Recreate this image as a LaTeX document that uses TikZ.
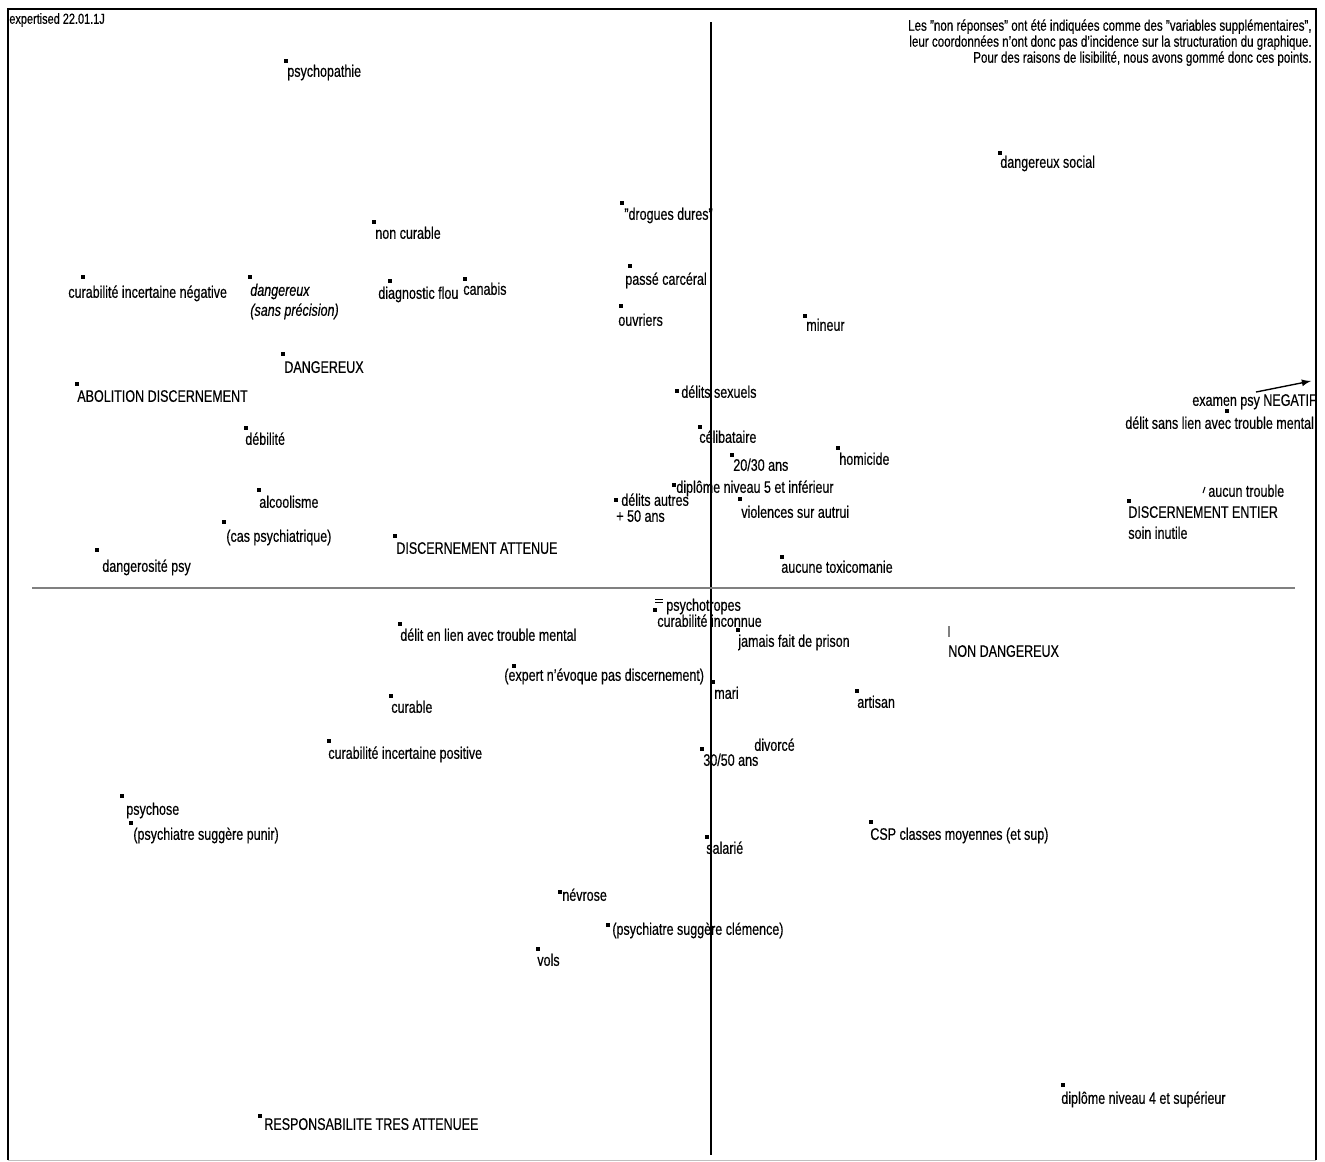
\documentclass[tikz,border=0pt]{standalone}
\usepackage{fontspec}
\setmainfont{Liberation Sans}[FakeStretch=0.75, FakeBold=0.4]
\newcommand{\labfont}{\fontsize{9.5}{11}\selectfont}
\newcommand{\notefont}{\fontsize{8.8}{9.1}\selectfont}

\begin{document}
\begin{tikzpicture}[x=0.02cm, y=-0.02cm]
  \tikzstyle{every node}=[inner sep=0pt, font=\labfont]
  \tikzstyle{pnt}=[rectangle, fill=black, minimum size=0.065cm]
  \tikzstyle{lbl}=[anchor=west, text height=1.5ex, text depth=0.25ex]
  \useasboundingbox (0,0) rectangle (1325,1161);

  % cadre
  \draw[line width=0.9pt] (8,1160) -- (8,9) -- (1316,9) -- (1316,1160);
  \draw[gray!50] (8,1160) -- (1316,1160);
  \node[lbl, font=\fontsize{8.3}{9}\selectfont] (titre) at (9,18) {expertised 22.01.1J};
  \node[anchor=north east, align=right, font=\notefont] (note) at (1312,19)
    {Les "non réponses" ont été indiquées comme des "variables supplémentaires",\\
     leur coordonnées n'ont donc pas d'incidence sur la structuration du graphique.\\
     Pour des raisons de lisibilité, nous avons gommé donc ces points.};

  % axes
  \coordinate (haut) at (711,22);
  \coordinate (bas) at (711,1155);
  \coordinate (gauche) at (32,588);
  \coordinate (droite) at (1295,588);
  \draw[line width=0.8pt] (haut) -- (bas);
  \draw[gray, line width=0.8pt] (gauche) -- (droite);

  % quadrant haut gauche
  \node[pnt] (psychopathie) at (286,61) {};
  \node[lbl] (psychopathie-t) at (287,71) {psychopathie};
  \node[pnt] (noncurable) at (374,222) {};
  \node[lbl] (noncurable-t) at (375,233) {non curable};
  \node[pnt] (curabneg) at (83,277) {};
  \node[lbl] (curabneg-t) at (68,292) {curabilité incertaine négative};
  \node[pnt] (dangsans) at (250,277) {};
  \node[lbl] (dangsans-t) at (250,290) {\itshape dangereux};
  \node[lbl] (dangsans-u) at (250,310) {\itshape (sans précision)};
  \node[pnt] (diagflou) at (390,281) {};
  \node[lbl] (diagflou-t) at (378,293) {diagnostic flou};
  \node[pnt] (canabis) at (465,279) {};
  \node[lbl] (canabis-t) at (463,289) {canabis};
  \node[pnt] (dangereux) at (283,354) {};
  \node[lbl] (dangereux-t) at (284,367) {DANGEREUX};
  \node[pnt] (abolition) at (77,384) {};
  \node[lbl] (abolition-t) at (77,396) {ABOLITION DISCERNEMENT};
  \node[pnt] (debilite) at (246,428) {};
  \node[lbl] (debilite-t) at (245,439) {débilité};
  \node[pnt] (alcoolisme) at (259,490) {};
  \node[lbl] (alcoolisme-t) at (259,502) {alcoolisme};
  \node[pnt] (caspsy) at (224,522) {};
  \node[lbl] (caspsy-t) at (226,536) {(cas psychiatrique)};
  \node[pnt] (dangpsy) at (97,550) {};
  \node[lbl] (dangpsy-t) at (102,566) {dangerosité psy};
  \node[pnt] (attenue) at (395,536) {};
  \node[lbl] (attenue-t) at (396,548) {DISCERNEMENT ATTENUE};
  \node[pnt] (drogues) at (622,203) {};
  \node[lbl] (drogues-t) at (624,214) {"drogues dures"};
  \node[pnt] (carceral) at (630,266) {};
  \node[lbl] (carceral-t) at (625,279) {passé carcéral};
  \node[pnt] (ouvriers) at (621,306) {};
  \node[lbl] (ouvriers-t) at (618,320) {ouvriers};
  \node[pnt] (sexuels) at (677,391) {};
  \node[lbl] (sexuels-t) at (681,392) {délits sexuels};
  \node[pnt] (autres) at (616,500) {};
  \node[lbl] (autres-t) at (621,500) {délits autres};
  \node[lbl] (autres-u) at (616,516) {+ 50 ans};

  % quadrant haut droit
  \node[pnt] (celibataire) at (700,427) {};
  \node[lbl] (celibataire-t) at (699,437) {célibataire};
  \node[pnt] (vingt) at (732,455) {};
  \node[lbl] (vingt-t) at (733,465) {20/30 ans};
  \node[pnt] (homicide) at (838,448) {};
  \node[lbl] (homicide-t) at (839,459) {homicide};
  \node[pnt] (dipcinq) at (674,485) {};
  \node[lbl] (dipcinq-t) at (676,487) {diplôme niveau 5 et inférieur};
  \node[pnt] (violences) at (740,499) {};
  \node[lbl] (violences-t) at (741,512) {violences sur autrui};
  \node[pnt] (toxico) at (782,557) {};
  \node[lbl] (toxico-t) at (781,567) {aucune toxicomanie};
  \node[pnt] (mineur) at (805,316) {};
  \node[lbl] (mineur-t) at (806,325) {mineur};
  \node[pnt] (social) at (1000,153) {};
  \node[lbl] (social-t) at (1000,162) {dangereux social};
  \node[pnt] (sanslien) at (1227,411) {};
  \node[lbl] (examen-t) at (1192,400) {examen psy NEGATIF};
  \node[lbl] (sanslien-t) at (1125,423) {délit sans lien avec trouble mental};
  \coordinate (fl1) at (1256,392);
  \coordinate (fl2) at (1311,381);
  \draw[-latex, line width=0.8pt] (fl1) -- (fl2);
  \node[lbl] (aucun-t) at (1208,491) {aucun trouble};
  \draw[line width=0.6pt] (1203,493) -- (1205,487);
  \node[pnt] (entier) at (1129,501) {};
  \node[lbl] (entier-t) at (1128,512) {DISCERNEMENT ENTIER};
  \node[lbl] (soin-t) at (1128,533) {soin inutile};

  % quadrant bas
  \node[pnt] (psychotropes) at (655,610) {};
  \draw[line width=0.5pt] (655,599) -- (663,599) (655,602) -- (663,602);
  \node[lbl] (psychotropes-t) at (666,605) {psychotropes};
  \node[lbl] (inconnue-t) at (657,621) {curabilité inconnue};
  \node[pnt] (enlien) at (400,624) {};
  \node[lbl] (enlien-t) at (400,635) {délit en lien avec trouble mental};
  \node[pnt] (expert) at (514,666) {};
  \node[lbl] (expert-t) at (504,675) {(expert n'évoque pas discernement)};
  \node[pnt] (jamais) at (738,630) {};
  \node[lbl] (jamais-t) at (738,641) {jamais fait de prison};
  \node[pnt] (mari) at (713,682) {};
  \node[lbl] (mari-t) at (714,693) {mari};
  \draw[gray, line width=0.6pt] (949,626) -- (949,637);
  \node[lbl] (nondang-t) at (948,651) {NON DANGEREUX};
  \node[pnt] (artisan) at (857,691) {};
  \node[lbl] (artisan-t) at (857,702) {artisan};
  \node[pnt] (curable) at (391,696) {};
  \node[lbl] (curable-t) at (391,707) {curable};
  \node[pnt] (curabpos) at (329,741) {};
  \node[lbl] (curabpos-t) at (328,753) {curabilité incertaine positive};
  \node[lbl] (divorce-t) at (754,745) {divorcé};
  \node[pnt] (trente) at (702,749) {};
  \node[lbl] (trente-t) at (703,760) {30/50 ans};
  \node[pnt] (psychose) at (122,796) {};
  \node[lbl] (psychose-t) at (126,809) {psychose};
  \node[pnt] (punir) at (131,823) {};
  \node[lbl] (punir-t) at (133,834) {(psychiatre suggère punir)};
  \node[pnt] (salarie) at (707,837) {};
  \node[lbl] (salarie-t) at (706,848) {salarié};
  \node[pnt] (csp) at (871,822) {};
  \node[lbl] (csp-t) at (870,834) {CSP classes moyennes (et sup)};
  \node[pnt] (nevrose) at (560,892) {};
  \node[lbl] (nevrose-t) at (562,895) {névrose};
  \node[pnt] (clemence) at (608,925) {};
  \node[lbl] (clemence-t) at (612,929) {(psychiatre suggère clémence)};
  \node[pnt] (vols) at (538,949) {};
  \node[lbl] (vols-t) at (537,960) {vols};
  \node[pnt] (tresatt) at (260,1116) {};
  \node[lbl] (tresatt-t) at (264,1124) {RESPONSABILITE TRES ATTENUEE};
  \node[pnt] (dipquatre) at (1063,1085) {};
  \node[lbl] (dipquatre-t) at (1061,1098) {diplôme niveau 4 et supérieur};
\end{tikzpicture}
\end{document}
